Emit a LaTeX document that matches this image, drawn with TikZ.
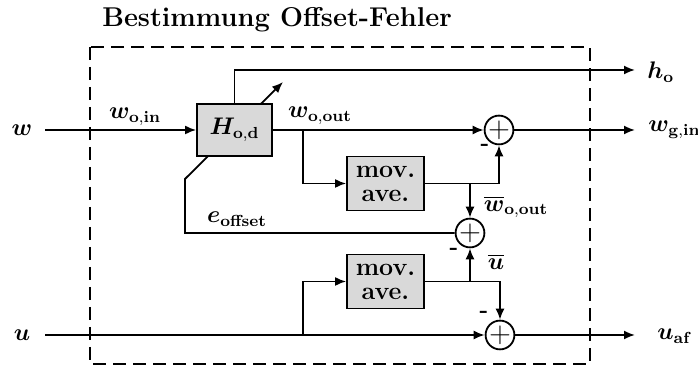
\documentclass[tikz,border=0pt]{standalone}
\usepackage{amsmath,amssymb}
\usepackage{bm}
\usepackage{xcolor}
\usepackage{tikz}
\usetikzlibrary{positioning, arrows.meta, backgrounds}

\definecolor{boxgray}{gray}{0.85}

\begin{document}
\begin{tikzpicture}[
  x=0.5pt, y=-0.5pt,
  blockbox/.style={draw, fill=boxgray, line width=0.9pt, minimum width=38.5pt, minimum height=27pt, align=center, font=\fontsize{12.5}{13}\selectfont\bfseries, inner sep=1pt},
  sumnode/.style={draw, circle, fill=white, line width=0.9pt, minimum size=11pt, inner sep=0pt, font=\Large},
  lbl/.style={inner sep=1pt, font=\fontsize{11.5}{13}\selectfont},
  arrow/.style={-{Latex[length=5.5pt, width=4.5pt]}, line width=0.9pt},
  wire/.style={line width=0.9pt}
]
\useasboundingbox (0,0) rectangle (698,367);
\node[font=\fontsize{13.6}{16}\selectfont\bfseries] (title) at (277,20) {Bestimmung Offset-Fehler};
\draw[line width=0.9pt, dash pattern=on 6.5pt off 3.5pt] (90,47) rectangle (590,364);

% blocks
\node[blockbox, minimum width=37.5pt, minimum height=26pt, font=\large] (hod) at (234.5,130) {$\bm{H}_{\mathbf{o,d}}$};
\node[sumnode] (s1) at (499,130) {$+$};
\node[blockbox] (ma1) at (385.5,183.5) {mov.\\[-1pt]ave.};
\node[sumnode] (s2) at (470,233) {$+$};
\node[blockbox] (ma2) at (385.5,281.5) {mov.\\[-1pt]ave.};
\node[sumnode] (s3) at (500,335) {$+$};

% in- and outputs
\node[lbl] (w) at (22,130) {$\bm{w}$};
\node[lbl] (u) at (22,335) {$\bm{u}$};
\node[lbl, anchor=west] (ho) at (645,72) {$\bm{h}_{\mathbf{o}}$};
\node[lbl, anchor=west] (wg) at (646,130) {$\bm{w}_{\mathbf{g,in}}$};
\node[lbl, anchor=west] (uaf) at (655,336) {$\bm{u}_{\mathbf{af}}$};
\coordinate (win) at (45,130);
\coordinate (uin) at (45,335);
\coordinate (hoend) at (635,70);
\coordinate (wgend) at (635,130);
\coordinate (uafend) at (635,335);
\coordinate (b1) at (303,130);
\coordinate (b3) at (303,335);
\coordinate (kink) at (185,179);
\coordinate (tip) at (283,82);

% signal labels
\node[lbl] (lwin) at (135,117) {$\bm{w}_{\mathbf{o,in}}$};
\node[lbl] (lwout) at (320,116) {$\bm{w}_{\mathbf{o,out}}$};
\node[lbl] (leoff) at (237,219) {$\bm{e}_{\mathbf{offset}}$};
\node[lbl] (lwbar) at (516,207) {$\overline{\bm{w}}_{\mathbf{o,out}}$};
\node[lbl] (lubar) at (496,262) {$\overline{\bm{u}}$};
\node[lbl] (m1) at (485,147) {\textbf{-}};
\node[lbl] (m2) at (454,251) {\textbf{-}};
\node[lbl] (m3) at (484,314) {\textbf{-}};

% connectors
\draw[arrow] (win) -- (hod.west);
\draw[arrow] (hod.north) |- (hoend);
\draw[arrow] (hod.east) -- (s1.west);
\draw[arrow] (b1) |- (ma1.west);
\draw[arrow] (ma1.east) -| (s1.south);
\draw[arrow] (ma1.east -| s2) -- (s2.north);
\draw[arrow] (s1.east) -- (wgend);
\begin{scope}[on background layer]
\draw[arrow] (s2.west) -| (kink) -- (tip);
\end{scope}
\draw[arrow] (uin) -- (s3.west);
\draw[arrow] (b3) |- (ma2.west);
\draw[arrow] (ma2.east) -| (s3.north);
\draw[arrow] (ma2.east -| s2) -- (s2.south);
\draw[arrow] (s3.east) -- (uafend);
\end{tikzpicture}
\end{document}
